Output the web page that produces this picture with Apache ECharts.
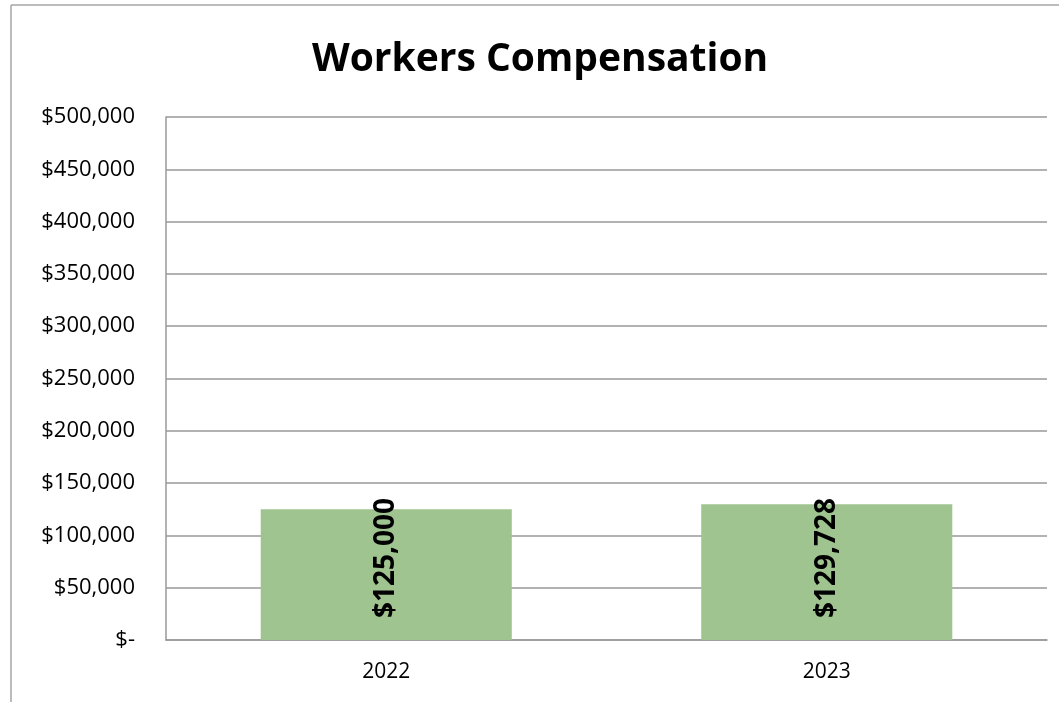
<!DOCTYPE html>
<html>
<head>
<meta charset="utf-8">
<script src="https://cdn.jsdelivr.net/npm/echarts@6/dist/echarts.min.js"></script>
<style>
  html, body { margin: 0; padding: 0; background: #fff; }
  #chart { width: 1059px; height: 702px; }
</style>
</head>
<body>
<div id="chart"></div>
<script>
var years = ['2022', '2023'];
var costs = [125000, 129728];
var yTicks = { min: 0, max: 500000, step: 50000 };

function money(v) {
  if (v === 0) return '$-';
  return '$' + v.toLocaleString('en-US');
}

var chart = echarts.init(document.getElementById('chart'));

var option = {
  animation: false,
  title: {
    text: 'Workers Compensation',
    left: 312,
    top: 40,
    padding: 0,
    textStyle: { fontFamily: 'Open Sans', fontSize: 39, fontWeight: 'bold', color: '#000' }
  },
  graphic: [
    { type: 'line', shape: { x1: 11, y1: 5, x2: 1059, y2: 5 }, style: { stroke: '#a6a6a6', lineWidth: 1.5 } },
    { type: 'line', shape: { x1: 11, y1: 5, x2: 11, y2: 702 }, style: { stroke: '#a6a6a6', lineWidth: 1.5 } }
  ],
  grid: { left: 166, right: 12, top: 117, bottom: 62 },
  xAxis: {
    type: 'category',
    data: years,
    axisLine: { lineStyle: { color: '#999', width: 1.5 } },
    axisTick: { show: false },
    axisLabel: { fontFamily: 'Open Sans', fontSize: 21, color: '#000', margin: 22 }
  },
  yAxis: {
    type: 'value',
    min: yTicks.min,
    max: yTicks.max,
    interval: yTicks.step,
    axisLine: { show: true, lineStyle: { color: '#999', width: 1.5 } },
    axisTick: { show: false },
    splitLine: { lineStyle: { color: '#999', width: 1.5 } },
    axisLabel: { fontFamily: 'Open Sans', fontSize: 22, color: '#000', margin: 31, formatter: money }
  },
  series: [{
    type: 'bar',
    data: costs,
    barWidth: '57%',
    itemStyle: { color: '#a0c490' },
    label: {
      show: true,
      position: 'insideBottom',
      distance: 22,
      rotate: 90,
      align: 'left',
      verticalAlign: 'middle',
      fontFamily: 'Open Sans',
      fontSize: 28,
      fontWeight: 'bold',
      color: '#000',
      formatter: function (p) { return money(p.value); }
    }
  }]
};

chart.setOption(option);
window.addEventListener('resize', chart.resize);
</script>
</body>
</html>
